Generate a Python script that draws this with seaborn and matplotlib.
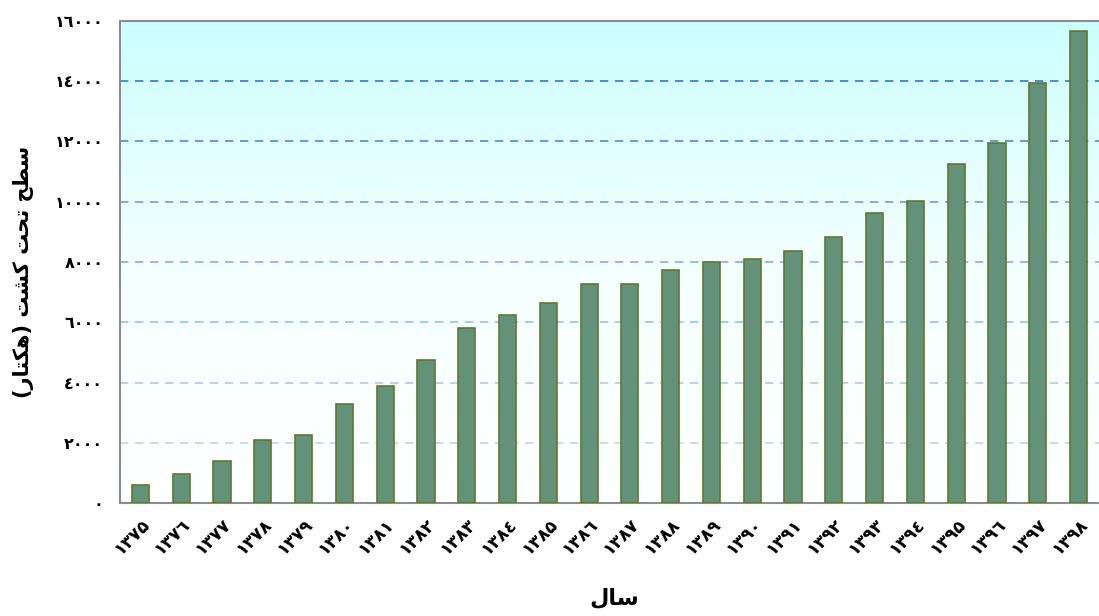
import matplotlib
matplotlib.use("Agg")
import matplotlib.pyplot as plt
import matplotlib.colors as mcolors
from matplotlib.ticker import MultipleLocator
import seaborn as sns
import numpy as np
import pandas as pd


# سال‌ها و سطح زیر کشت (هکتار)
years = ["۱۳۷۵", "۱۳۷٦", "۱۳۷۷", "۱۳۷۸", "۱۳۷۹", "۱۳۸۰", "۱۳۸۱", "۱۳۸۲",
         "۱۳۸۳", "۱۳۸٤", "۱۳۸۵", "۱۳۸٦", "۱۳۸۷", "۱۳۸۸", "۱۳۸۹", "۱۳۹۰",
         "۱۳۹۱", "۱۳۹۲", "۱۳۹۳", "۱۳۹٤", "۱۳۹۵", "۱۳۹٦", "۱۳۹۷", "۱۳۹۸"]
area = [600, 950, 1400, 2100, 2250, 3300, 3900, 4750,
        5800, 6250, 6650, 7270, 7270, 7730, 8000, 8100,
        8370, 8830, 9630, 10030, 11250, 11950, 13950, 15670]
ytick_vals = [0, 2000, 4000, 6000, 8000, 10000, 12000, 14000, 16000]
ytick_labels = ["۰", "۲۰۰۰", "٤۰۰۰", "٦۰۰۰", "۸۰۰۰", "۱۰۰۰۰", "۱۲۰۰۰", "۱٤۰۰۰", "۱٦۰۰۰"]

# متن‌های فارسی به صورت شکل‌های نمایشی (matplotlib چیدمان راست‌به‌چپ ندارد)
YLABEL = "(\uFEAD\uFE8E\uFE98\uFEDC\uFEEB) \uFE96\uFEB8\uFEDB \uFE96\uFEA4\uFE97 \uFEA2\uFEC4\uFEB3"
XLABEL = "\uFEDD\uFE8E\uFEB3"

df = pd.DataFrame({"year": years, "area": area})

sns.set_theme(style="white")
plt.rcParams["font.family"] = ["DejaVu Sans"]

fig = plt.figure(figsize=(10.99, 6.16), dpi=100)
ax = fig.add_axes([0.1092, 0.1834, 0.8908, 0.7826])

# پس‌زمینه گرادیانی
grad = np.linspace(0, 1, 256).reshape(-1, 1)
cmap = mcolors.LinearSegmentedColormap.from_list("bg", ["#ffffff", "#f4ffff", "#ccffff"])
ax.imshow(grad, cmap=cmap, aspect="auto", extent=[-0.5, 23.5, 0, 16000],
          origin="lower", zorder=0)

sns.barplot(data=df, x="year", y="area", color="#63917a", width=0.42,
            edgecolor="#5d7a2e", linewidth=1.2, saturation=1, ax=ax, zorder=3)

ax.set_xlim(-0.5, 23.5)
ax.set_ylim(0, 16000)
ax.set_yticks(ytick_vals)
ax.set_yticklabels(ytick_labels, fontsize=11.5, fontweight="bold", color="black")
ax.yaxis.set_minor_locator(MultipleLocator(1000))

# خطوط شبکه با رنگ تدریجی
light = np.array(mcolors.to_rgb("#c9d9ee"))
dark = np.array(mcolors.to_rgb("#2f78cc"))
for v in ytick_vals[1:-1]:
    t = (v / 14000) ** 1.5
    ax.axhline(v, color=light + (dark - light) * t, linestyle=(0, (5, 4)),
               linewidth=1.2, zorder=1)

ax.set_xticks(np.arange(len(years)))
ax.set_xticklabels(years, rotation=45, ha="right", rotation_mode="anchor",
                   fontsize=12.5, fontweight="bold", color="black")
ax.set_xticks(np.arange(len(years) + 1) - 0.5, minor=True)
ax.tick_params(axis="x", which="major", length=0, pad=9)
ax.tick_params(axis="x", which="minor", length=5, color="#808080", width=1, direction="out")
ax.tick_params(axis="y", which="major", length=0, pad=12)
ax.tick_params(axis="y", which="minor", length=4, color="#808080", width=1, direction="in")

for side in ["left", "bottom", "top"]:
    ax.spines[side].set_visible(True)
    ax.spines[side].set_color("#8c8c8c")
    ax.spines[side].set_linewidth(1.5)
ax.spines["right"].set_visible(False)

ax.set_xlabel(XLABEL, fontsize=16, fontweight="bold", color="black")
ax.xaxis.set_label_coords(0.505, -0.175)
ax.set_ylabel(YLABEL, fontsize=15, fontweight="bold", color="black")
ax.yaxis.set_label_coords(-0.088, 0.48)

plt.savefig("out.png", dpi=100)
